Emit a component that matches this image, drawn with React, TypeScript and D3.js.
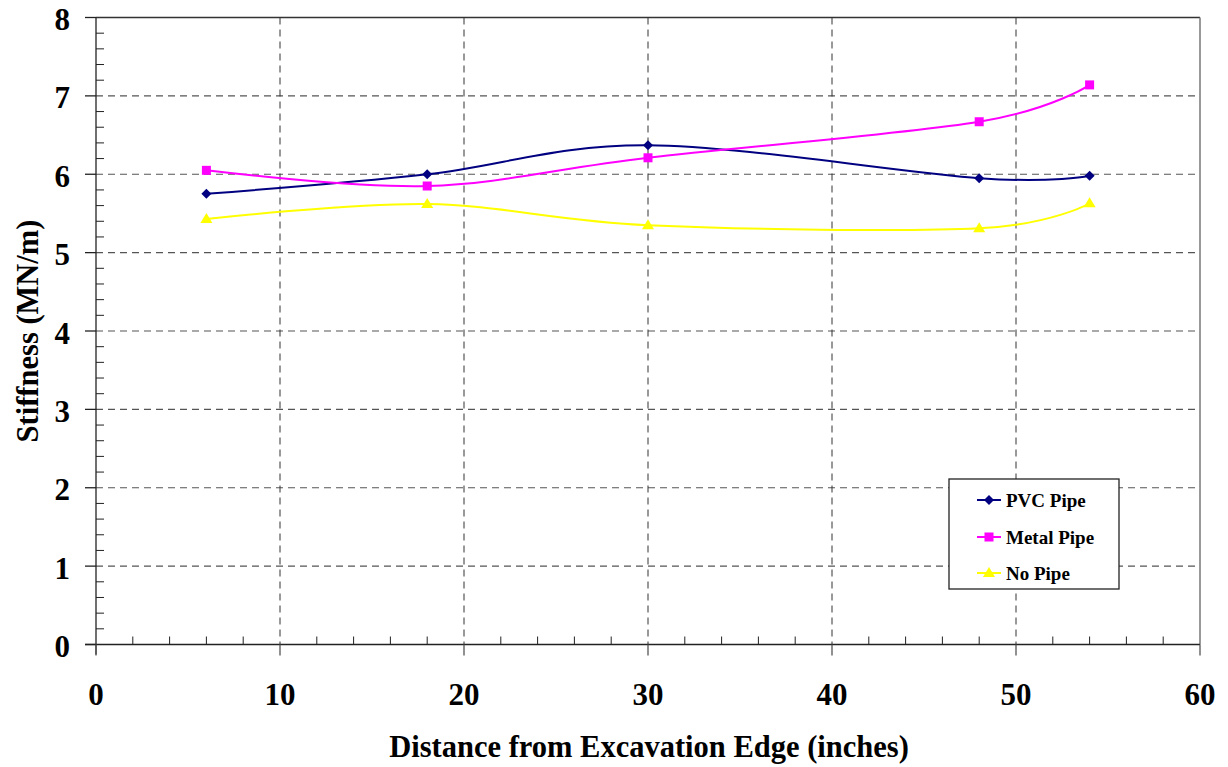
import React from "react";
import * as d3 from "d3";

const xValues = [6, 18, 30, 48, 54];
const pvcPipe = [5.75, 6.0, 6.37, 5.95, 5.98];
const metalPipe = [6.05, 5.85, 6.21, 6.67, 7.14];
const noPipe = [5.43, 5.62, 5.35, 5.31, 5.63];
const xTicks = [0, 10, 20, 30, 40, 50, 60];
const yTicks = [0, 1, 2, 3, 4, 5, 6, 7, 8];
const seriesNames = ["PVC Pipe", "Metal Pipe", "No Pipe"];
const seriesColors = ["#000080", "#FF00FF", "#FFFF00"];

const W = 1228, H = 767;
const left = 96, right = 1200, top = 17.5, bottom = 644.5;
const font = "'Liberation Serif', 'Times New Roman', serif";

export default function App() {
  const x = d3.scaleLinear().domain([0, 60]).range([left, right]);
  const y = d3.scaleLinear().domain([0, 8]).range([bottom, top]);
  const series = [pvcPipe, metalPipe, noPipe];
  const line = d3
    .line<[number, number]>()
    .x((d) => x(d[0]))
    .y((d) => y(d[1]))
    .curve(d3.curveCatmullRom.alpha(0));

  const marker = (i: number, cx: number, cy: number, key: string) => {
    const c = seriesColors[i];
    if (i === 0) {
      const s = 5;
      return <path key={key} d={`M${cx},${cy - s}L${cx + s},${cy}L${cx},${cy + s}L${cx - s},${cy}Z`} fill={c} />;
    }
    if (i === 1) {
      return <rect key={key} x={cx - 4.5} y={cy - 4.5} width={9} height={9} fill={c} />;
    }
    return <path key={key} d={`M${cx},${cy - 6}L${cx + 6},${cy + 4}L${cx - 6},${cy + 4}Z`} fill={c} />;
  };

  const minorY = d3.range(0, 8.001, 0.2).filter((v) => Math.abs(v - Math.round(v)) > 0.01);
  const minorX = d3.range(0, 60.001, 2).filter((v) => v % 10 !== 0);

  const legX = 949, legY = 479, legW = 170, legH = 110;
  const rowY = [500, 537, 573];

  return (
    <svg width={W} height={H} style={{ position: "absolute", left: 0, top: 0, background: "#fff" }}>
      {yTicks.filter((v) => v > 0 && v < 8).map((v) => (
        <line key={"gy" + v} x1={left} x2={right} y1={y(v)} y2={y(v)} stroke="#555" strokeWidth={1.2} strokeDasharray="7,5" />
      ))}
      {xTicks.filter((v) => v > 0 && v < 60).map((v) => (
        <line key={"gx" + v} x1={x(v)} x2={x(v)} y1={top} y2={bottom} stroke="#333" strokeWidth={1} strokeDasharray="7,5" />
      ))}
      <line x1={left} x2={right} y1={top} y2={top} stroke="#333" strokeWidth={1.3} />
      <line x1={right} x2={right} y1={top} y2={bottom} stroke="#777" strokeWidth={1.5} />
      <line x1={left} x2={left} y1={top} y2={bottom + 10} stroke="#222" strokeWidth={1.3} />
      <line x1={left - 11} x2={right} y1={bottom} y2={bottom} stroke="#222" strokeWidth={1.3} />
      {yTicks.map((v) => (
        <line key={"ty" + v} x1={left - 11} x2={left} y1={y(v)} y2={y(v)} stroke="#222" strokeWidth={1.3} />
      ))}
      {minorY.map((v) => (
        <line key={"my" + v} x1={left} x2={left + 8} y1={y(v)} y2={y(v)} stroke="#222" strokeWidth={1} />
      ))}
      {xTicks.map((v) => (
        <line key={"tx" + v} x1={x(v)} x2={x(v)} y1={bottom} y2={bottom + 11} stroke="#555" strokeWidth={1.3} />
      ))}
      {minorX.map((v) => (
        <line key={"mx" + v} x1={x(v)} x2={x(v)} y1={bottom} y2={bottom - 8} stroke="#222" strokeWidth={1} />
      ))}
      {yTicks.map((v) => (
        <text key={"ly" + v} x={70} y={y(v) + 2} textAnchor="end" dominantBaseline="central" fontFamily={font} fontWeight="bold" fontSize={31}>
          {v}
        </text>
      ))}
      {xTicks.map((v) => (
        <text key={"lx" + v} x={x(v)} y={694} textAnchor="middle" dominantBaseline="central" fontFamily={font} fontWeight="bold" fontSize={31}>
          {v}
        </text>
      ))}
      <text x={649} y={747} textAnchor="middle" dominantBaseline="central" fontFamily={font} fontWeight="bold" fontSize={30.5}>
        Distance from Excavation Edge (inches)
      </text>
      <text transform={`translate(28,${(top + bottom) / 2}) rotate(-90)`} textAnchor="middle" dominantBaseline="central" fontFamily={font} fontWeight="bold" fontSize={30.5}>
        Stiffness (MN/m)
      </text>
      {series.map((vals, i) => {
        const pts = xValues.map((xv, j) => [xv, vals[j]] as [number, number]);
        return (
          <g key={"s" + i}>
            <path d={line(pts) || ""} fill="none" stroke={seriesColors[i]} strokeWidth={2} />
            {pts.map((p, j) => marker(i, x(p[0]), y(p[1]), `m${i}-${j}`))}
          </g>
        );
      })}
      <rect x={legX} y={legY} width={legW} height={legH} fill="#fff" stroke="#222" strokeWidth={1.3} />
      {seriesNames.map((name, i) => (
        <g key={"lg" + i}>
          <line x1={977} x2={1001} y1={rowY[i]} y2={rowY[i]} stroke={seriesColors[i]} strokeWidth={2} />
          {marker(i, 989, rowY[i], "lm" + i)}
          <text x={1006} y={rowY[i]} dominantBaseline="central" fontFamily={font} fontWeight="bold" fontSize={19}>
            {name}
          </text>
        </g>
      ))}
    </svg>
  );
}
